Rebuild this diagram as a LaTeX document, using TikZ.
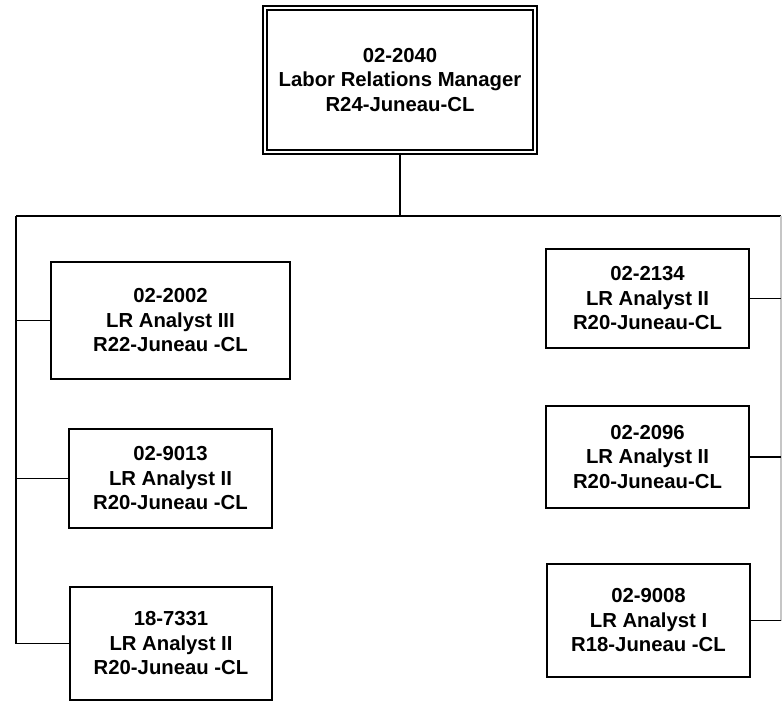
\documentclass[tikz,border=0pt]{standalone}
\usepackage{fontspec}
\setmainfont{Liberation Sans}
\begin{document}
\begin{tikzpicture}[x=1pt,y=-1pt,
  boxstyle/.style={draw, line width=1.9pt, inner sep=0pt, align=center,
    font=\fontsize{20.3}{24.5}\selectfont\bfseries},
  mgrstyle/.style={draw, double, double distance=2.2pt, line width=1.6pt,
    inner sep=0pt, align=center, minimum width=270pt, minimum height=144pt,
    font=\fontsize{20.3}{24.5}\selectfont\bfseries},
  conn/.style={line width=1.9pt},
  faint/.style={line width=1.4pt, gray!45}]
\useasboundingbox (0,0) rectangle (782,702);
\fill[white] (0,0) rectangle (782,702);

\node[mgrstyle] (mgr) at (400,80) {02-2040\\Labor Relations Manager\\R24-Juneau-CL};

\node[boxstyle, minimum width=239pt, minimum height=117pt] (a1) at (170.5,320.5) {02-2002\\LR Analyst III\\R22-Juneau -CL};
\node[boxstyle, minimum width=203pt, minimum height=99pt] (a2) at (170.5,478.5) {02-9013\\LR Analyst II\\R20-Juneau -CL};
\node[boxstyle, minimum width=202pt, minimum height=113pt] (a3) at (171,643.5) {18-7331\\LR Analyst II\\R20-Juneau -CL};

\node[boxstyle, minimum width=203pt, minimum height=99pt] (b1) at (647.5,298.5) {02-2134\\LR Analyst II\\R20-Juneau-CL};
\node[boxstyle, minimum width=203pt, minimum height=102pt] (b2) at (647.5,457) {02-2096\\LR Analyst II\\R20-Juneau-CL};
\node[boxstyle, minimum width=203pt, minimum height=113pt] (b3) at (648.5,620.5) {02-9008\\LR Analyst I\\R18-Juneau -CL};

\coordinate (busL) at (16,216);
\coordinate (busR) at (781,216);
\coordinate (trunk) at (400,216);

\draw[conn] (mgr.south) -- (trunk);
\draw[conn] (busL) -- (busR);
\draw[conn] (busL) |- (a3.west);
\draw[conn] (busL |- a1.west) -- (a1.west);
\draw[conn] (busL |- a2.west) -- (a2.west);

\draw[faint] (busR) -- (busR |- b3.east);
\draw[conn] (b1.east) -- (busR |- b1.east);
\draw[conn] (b2.east) -- (busR |- b2.east);
\draw[conn] (b3.east) -- (busR |- b3.east);
\end{tikzpicture}
\end{document}
